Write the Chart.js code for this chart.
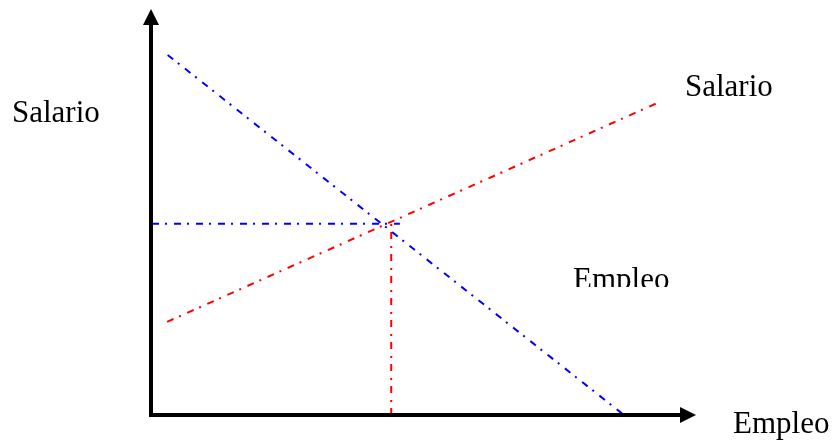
<!DOCTYPE html>
<html>
<head>
<meta charset="utf-8">
<script src="https://cdn.jsdelivr.net/npm/chart.js@4"></script>
<style>
  html, body { margin: 0; padding: 0; background: #fff; }
  #wrap { width: 832px; height: 440px; }
</style>
</head>
<body>
<div id="wrap"><canvas id="myChart" width="832" height="440"></canvas></div>
<script>
// curvas de oferta y demanda (unidades del grafico, 0-100)
var demandaX = [2.9, 87.4];
var demandaY = [88.9, 0];
var ofertaX = [2.8, 93.5];
var ofertaY = [23, 77];
// lineas de equilibrio
var salarioEqX = [0, 45.9];
var salarioEqY = [47.2, 47.2];
var empleoEqX = [44.3, 44.3];
var empleoEqY = [0, 47.6];

var etiquetas = ['Salario', 'Salario', 'Empleo', 'Empleo'];

function puntos(xs, ys) {
    return xs.map(function (x, i) { return { x: x, y: ys[i] }; });
}

var dashDot = [7, 6, 2, 7];

var ejesPlugin = {
    id: 'ejes',
    afterDraw: function (chart) {
        var ctx = chart.ctx;
        var a = chart.chartArea;
        var x0 = chart.scales.x.getPixelForValue(0) - 1;
        var y0 = chart.scales.y.getPixelForValue(0);
        ctx.save();
        ctx.fillStyle = '#000';
        ctx.strokeStyle = '#000';
        ctx.lineWidth = 4;
        ctx.beginPath();
        ctx.moveTo(x0, y0 + 2);
        ctx.lineTo(x0, a.top + 12);
        ctx.moveTo(x0 - 2, y0);
        ctx.lineTo(a.right - 10, y0);
        ctx.stroke();
        // flechas
        ctx.beginPath();
        ctx.moveTo(x0, a.top - 1);
        ctx.lineTo(x0 - 8, a.top + 15);
        ctx.lineTo(x0 + 8, a.top + 15);
        ctx.closePath();
        ctx.fill();
        ctx.beginPath();
        ctx.moveTo(a.right + 4, y0);
        ctx.lineTo(a.right - 12, y0 - 8);
        ctx.lineTo(a.right - 12, y0 + 8);
        ctx.closePath();
        ctx.fill();

        // textos
        ctx.font = '31px "Liberation Serif", "Times New Roman", serif';
        ctx.textBaseline = 'alphabetic';
        ctx.textAlign = 'left';
        ctx.fillText(etiquetas[0], 12, 122);
        ctx.fillText(etiquetas[1], 685, 96);
        ctx.fillText(etiquetas[3], 733, 433);
        ctx.beginPath();
        ctx.rect(540, 240, 160, 47);
        ctx.clip();
        ctx.fillText(etiquetas[2], 573, 289);
        ctx.restore();
    }
};

document.addEventListener('DOMContentLoaded', function () {
    var ctx = document.getElementById('myChart').getContext('2d');

    function serie(xs, ys, color) {
        return {
            data: puntos(xs, ys),
            showLine: true,
            borderColor: color,
            borderWidth: 2,
            borderDash: dashDot,
            pointRadius: 0,
            fill: false
        };
    }

    var myChart = new Chart(ctx, {
        type: 'scatter',
        data: {
            datasets: [
                serie(demandaX, demandaY, '#0000ff'),
                serie(ofertaX, ofertaY, '#ff0000'),
                serie(salarioEqX, salarioEqY, '#0000ff'),
                serie(empleoEqX, empleoEqY, '#ff0000')
            ]
        },
        options: {
            responsive: false,
            animation: false,
            layout: { padding: { left: 152, right: 140, top: 10, bottom: 25 } },
            plugins: {
                legend: { display: false },
                tooltip: { enabled: false }
            },
            scales: {
                x: { type: 'linear', min: 0, max: 100, display: false },
                y: { type: 'linear', min: 0, max: 100, display: false }
            }
        },
        plugins: [ejesPlugin]
    });
});
</script>
</body>
</html>
